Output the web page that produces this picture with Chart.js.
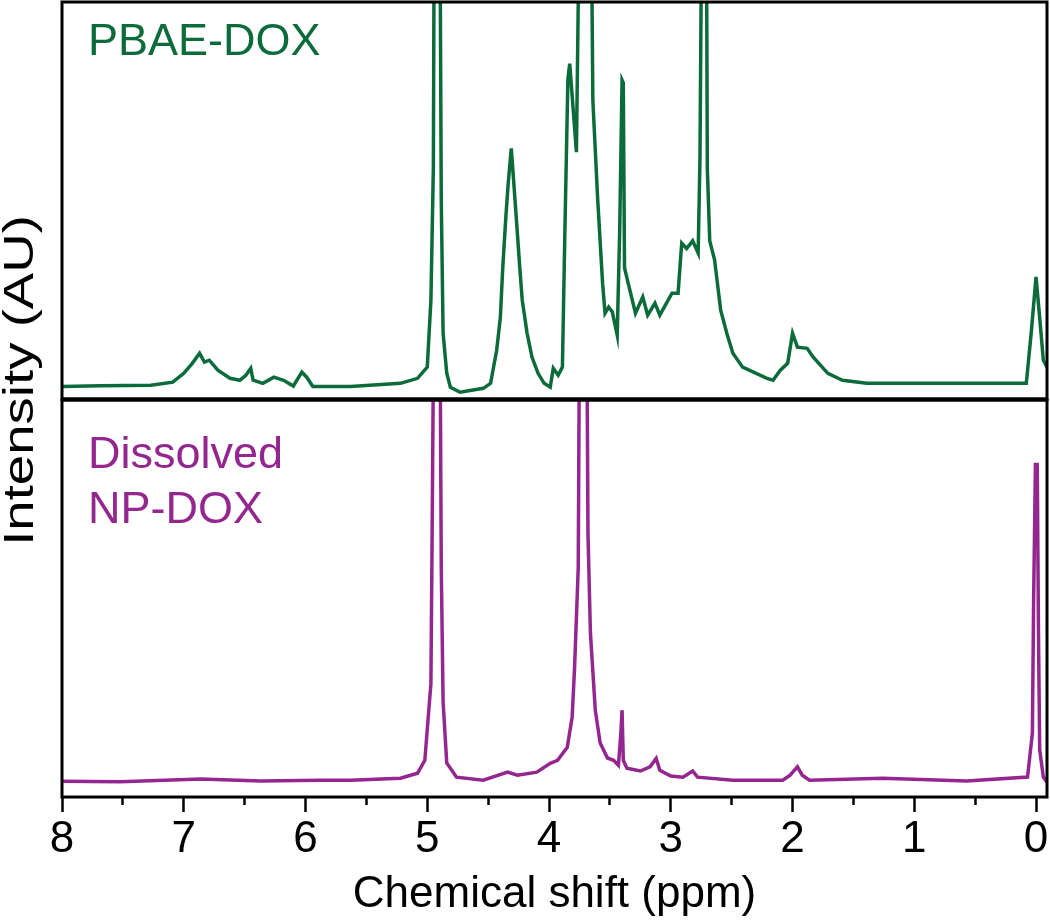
<!DOCTYPE html>
<html>
<head>
<meta charset="utf-8">
<title>PBAE-DOX vs Dissolved NP-DOX</title>
<script src="https://cdn.jsdelivr.net/npm/chart.js@4/dist/chart.umd.min.js"></script>
<style>
  html, body { margin: 0; padding: 0; background: #fff; }
  #wrap { width: 1050px; height: 920px; }
</style>
</head>
<body>
<div id="wrap"><canvas id="nmr-chart" width="1050" height="920"></canvas></div>
<script>
// values (ppm, intensity in arbitrary units)
const pbaeShift = [8.00, 7.68, 7.27, 7.09, 7.00, 6.93, 6.87, 6.83, 6.79, 6.72, 6.62, 6.54, 6.49, 6.45, 6.43, 6.35, 6.26, 6.18, 6.10, 6.03, 5.99, 5.94, 5.63, 5.22, 5.08, 5.00, 4.97, 4.95, 4.94, 4.92, 4.90, 4.885, 4.87, 4.84, 4.81, 4.73, 4.54, 4.48, 4.43, 4.40, 4.38, 4.355, 4.335, 4.31, 4.295, 4.26, 4.24, 4.22, 4.18, 4.14, 4.09, 4.04, 3.99, 3.965, 3.925, 3.89, 3.87, 3.845, 3.83, 3.775, 3.76, 3.75, 3.70, 3.66, 3.64, 3.60, 3.56, 3.54, 3.51, 3.48, 3.44, 3.42, 3.40, 3.39, 3.38, 3.35, 3.29, 3.23, 3.19, 3.13, 3.09, 2.99, 2.94, 2.91, 2.87, 2.82, 2.775, 2.76, 2.74, 2.72, 2.71, 2.70, 2.68, 2.64, 2.59, 2.54, 2.49, 2.41, 2.21, 2.16, 2.10, 2.04, 2.00, 1.96, 1.88, 1.83, 1.71, 1.59, 1.39, 0.71, 0.08, 0.04, 0.00, -0.03, -0.06, -0.09];
const pbaeIntensity = [0.2, 0.4, 0.5, 1.3, 3.6, 6.2, 8.8, 6.5, 7.0, 4.4, 2.3, 1.8, 3.1, 4.9, 1.8, 1.0, 2.6, 1.8, 0.3, 3.9, 2.6, 0.2, 0.2, 1.0, 2.3, 5.2, 22.6, 57, 150, 260, 150, 48.6, 14, 3.6, 0, -1.3, -0.3, 1.0, 9.6, 18, 31, 44, 53, 62, 55.6, 40, 31, 22.6, 14, 7.8, 3.6, 1.0, 0, 4.9, 3.1, 5.2, 40, 80, 84, 61, 100, 150, 250, 150, 74.5, 48.6, 27, 19.2, 20.8, 19.5, 13.5, 40, 79.7, 79, 31, 27, 19.2, 23.4, 18.7, 21.8, 18.7, 24.4, 24.4, 37.4, 36, 38, 34.8, 60, 150, 260, 150, 57, 38, 33, 20, 14, 8.8, 5.2, 2.3, 1.8, 4.4, 6.2, 14, 10.4, 10.1, 7.8, 3.6, 1.8, 1.0, 1.0, 1.0, 14, 28.6, 18, 7, 5.2];

const npShift = [8.00, 7.52, 6.86, 6.37, 5.88, 5.63, 5.22, 5.08, 5.02, 4.97, 4.96, 4.94, 4.92, 4.90, 4.885, 4.87, 4.84, 4.76, 4.54, 4.34, 4.26, 4.10, 3.99, 3.93, 3.85, 3.81, 3.79, 3.76, 3.745, 3.72, 3.695, 3.68, 3.66, 3.62, 3.58, 3.52, 3.47, 3.43, 3.41, 3.40, 3.39, 3.36, 3.25, 3.17, 3.12, 3.09, 3.00, 2.90, 2.82, 2.78, 2.49, 2.08, 2.02, 1.96, 1.92, 1.86, 1.26, 0.57, 0.07, 0.03, 0.02, 0.005, -0.01, -0.02, -0.03, -0.06, -0.09];
const npIntensity = [0.2, 0.1, 0.8, 0.3, 0.5, 0.5, 1.0, 2.3, 5.7, 25.8, 65, 150, 260, 150, 56, 21, 5, 1.3, 0.5, 2.6, 1.8, 2.6, 4.9, 5.7, 9.1, 17, 30, 56, 150, 260, 150, 65, 39, 18.8, 10.2, 6.3, 5.7, 4.4, 12.8, 18.8, 5.7, 3.6, 2.9, 4.0, 6.2, 3.1, 1.6, 1.3, 2.9, 1.3, 0.5, 0.5, 1.8, 4.0, 1.8, 0.5, 1.0, 0.3, 1.3, 12.8, 47, 83, 83, 39, 8.4, 1.3, 0];

const majorTicks = [8, 7, 6, 5, 4, 3, 2, 1, 0];

const green = '#0c6b3a';
const purple = '#93268f';
const fontFamily = '"Liberation Sans", Arial, Helvetica, sans-serif';

function toPoints(xs, ys) {
  return xs.map((x, i) => ({ x: x, y: ys[i] }));
}

// clips each spectrum to its own panel, draws the boxes, labels and y title
const panelPlugin = {
  id: 'panelPlugin',
  beforeDatasetDraw(chart, args) {
    const ds = chart.data.datasets[args.index];
    const scale = chart.scales[ds.yAxisID];
    const area = chart.chartArea;
    const ctx = chart.ctx;
    ctx.save();
    ctx.beginPath();
    ctx.rect(area.left, scale.top, area.right - area.left, scale.bottom - scale.top);
    ctx.clip();
  },
  afterDatasetDraw(chart) {
    chart.ctx.restore();
  },
  afterDraw(chart) {
    const ctx = chart.ctx;
    const area = chart.chartArea;
    const top = chart.scales.yTop;
    const bot = chart.scales.yBot;
    const xs = chart.scales.x;

    ctx.save();
    ctx.strokeStyle = '#000';
    ctx.lineWidth = 3;
    ctx.strokeRect(area.left, top.top, area.right - area.left, top.bottom - top.top);
    ctx.strokeRect(area.left, bot.top, area.right - area.left, bot.bottom - bot.top);
    // the shared edge between the panels is heavier
    ctx.lineWidth = 4.5;
    ctx.beginPath();
    ctx.moveTo(area.left, bot.top);
    ctx.lineTo(area.right, bot.top);
    ctx.stroke();

    // ppm labels under the major ticks
    ctx.fillStyle = '#000';
    ctx.font = '44px ' + fontFamily;
    ctx.textAlign = 'center';
    ctx.textBaseline = 'middle';
    majorTicks.forEach((v) => {
      ctx.fillText(String(v), xs.getPixelForValue(v), xs.top + 42.5);
    });

    ctx.font = '45px ' + fontFamily;
    ctx.textAlign = 'left';
    ctx.textBaseline = 'alphabetic';
    ctx.fillStyle = green;
    ctx.fillText('PBAE-DOX', area.left + 26, top.top + 53);
    ctx.fillStyle = purple;
    ctx.fillText('Dissolved', area.left + 26, bot.top + 68);
    ctx.fillText('NP-DOX', area.left + 26, bot.top + 123);

    // y title spans both panels, a little stretched like the original
    ctx.fillStyle = '#000';
    ctx.font = '42px ' + fontFamily;
    ctx.textAlign = 'center';
    ctx.translate(33, (area.top + area.bottom) / 2 - 19);
    ctx.rotate(-Math.PI / 2);
    ctx.scale(1.3, 1);
    ctx.fillText('Intensity (AU)', 0, 0);
    ctx.restore();
  }
};

const config = {
  type: 'line',
  data: {
    datasets: [
      {
        label: 'PBAE-DOX',
        data: toPoints(pbaeShift, pbaeIntensity),
        yAxisID: 'yTop',
        borderColor: green,
        borderWidth: 3.5,
        pointRadius: 0,
        tension: 0,
        fill: false
      },
      {
        label: 'Dissolved NP-DOX',
        data: toPoints(npShift, npIntensity),
        yAxisID: 'yBot',
        borderColor: purple,
        borderWidth: 3.5,
        pointRadius: 0,
        tension: 0,
        fill: false
      }
    ]
  },
  options: {
    responsive: false,
    animation: false,
    layout: { padding: { left: 62, right: 3, top: 2, bottom: 0 } },
    plugins: {
      legend: { display: false },
      tooltip: { enabled: false }
    },
    scales: {
      x: {
        type: 'linear',
        reverse: true,
        min: -0.09,
        max: 8,
        border: { display: false },
        grid: {
          drawOnChartArea: false,
          drawTicks: true,
          tickLength: 15,
          tickWidth: 2.5,
          tickColor: '#000',
          // half-ppm ticks drawn shorter
          tickBorderDash: (ctx) => (ctx.tick && majorTicks.includes(ctx.tick.value)) ? [] : [8, 40]
        },
        ticks: {
          stepSize: 0.5,
          includeBounds: false,
          autoSkip: false,
          display: false
        },
        title: {
          display: true,
          text: 'Chemical shift (ppm)',
          color: '#000',
          font: { family: fontFamily, size: 44, lineHeight: 1.136 },
          padding: { top: 58, bottom: 0 }
        }
      },
      yBot: {
        type: 'linear',
        position: 'left',
        stack: 'panels',
        stackWeight: 1,
        min: -3.9,
        max: 100,
        border: { display: false },
        grid: { display: false, drawTicks: false },
        ticks: { display: false }
      },
      yTop: {
        type: 'linear',
        position: 'left',
        stack: 'panels',
        stackWeight: 1,
        min: -3.2,
        max: 100,
        border: { display: false },
        grid: { display: false, drawTicks: false },
        ticks: { display: false }
      }
    }
  },
  plugins: [panelPlugin]
};

const nmrChart = new Chart(document.getElementById('nmr-chart'), config);
</script>
</body>
</html>
